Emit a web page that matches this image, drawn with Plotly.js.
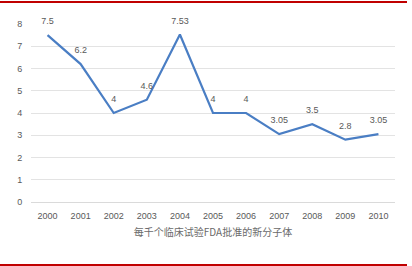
<!DOCTYPE html>
<html>
<head>
<meta charset="utf-8">
<script src="https://cdn.plot.ly/plotly-3.0.1.min.js"></script>
<style>
html,body{margin:0;padding:0;background:#fff;width:412px;height:266px;overflow:hidden;}
#chart{position:absolute;left:0;top:0;width:412px;height:266px;}
#frame{position:absolute;left:0;top:1px;width:407px;height:261px;border-top:2px solid #C00000;border-bottom:2px solid #C00000;pointer-events:none;}
</style>
</head>
<body>
<div id="chart"></div>
<div id="frame"></div>
<script>
const years = ['2000','2001','2002','2003','2004','2005','2006','2007','2008','2009','2010'];
const values = [7.5, 6.2, 4, 4.6, 7.53, 4, 4, 3.05, 3.5, 2.8, 3.05];
const labels = ['7.5','6.2','4','4.6','7.53','4','4','3.05','3.5','2.8','3.05'];
const yTicks = [0,1,2,3,4,5,6,7,8];
const xTitle = '每千个临床试验FDA批准的新分子体';

const gray = '#595959';
const trace = {
  x: years, y: values, type: 'scatter', mode: 'lines+markers+text',
  text: labels, textposition: 'top center',
  textfont: {family: 'Liberation Sans, Arial, sans-serif', size: 9, color: gray},
  line: {color: '#4A7EC4', width: 2.2},
  marker: {size: 12, color: 'rgba(0,0,0,0)', line: {width: 0}},
  cliponaxis: false, hoverinfo: 'none'
};
const layout = {
  width: 412, height: 266,
  margin: {l: 31, r: 17, t: 24, b: 64},
  paper_bgcolor: '#fff', plot_bgcolor: '#fff',
  showlegend: false,
  font: {family: 'Liberation Sans, Arial, sans-serif', size: 9, color: gray},
  xaxis: {
    type: 'category', range: [-0.5, 10.5],
    showgrid: false, zeroline: false,
    showline: false,
    ticks: 'outside', ticklen: 5, tickcolor: 'rgba(0,0,0,0)',
    tickfont: {size: 9, color: gray},
    title: {text: xTitle, standoff: 9, font: {family: 'Noto Sans CJK SC, sans-serif', size: 10, color: '#6a6a6a'}}
  },
  yaxis: {
    range: [0, 8], tickvals: yTicks, ticktext: yTicks.map(String),
    showgrid: true, gridcolor: '#E3E3E3', gridwidth: 1,
    zeroline: true, zerolinecolor: '#DADADA', zerolinewidth: 1,
    showline: false,
    ticks: 'outside', ticklen: 6, tickcolor: 'rgba(0,0,0,0)',
    tickfont: {size: 9, color: gray}
  }
};
Plotly.newPlot('chart', [trace], layout, {displayModeBar: false, staticPlot: true});
</script>
</body>
</html>
